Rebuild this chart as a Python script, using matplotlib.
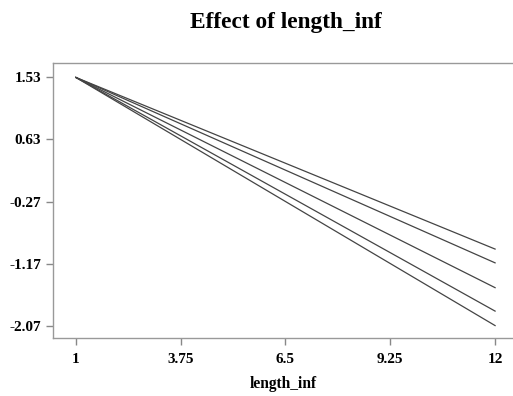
import numpy as np
import matplotlib
matplotlib.use("Agg")
import matplotlib.pyplot as plt

# values
x_vals = [1, 12]
start_vals = [1.53, 1.53, 1.53, 1.53, 1.53]
end_vals = [-0.96, -1.16, -1.52, -1.86, -2.07]
xticks = [1, 3.75, 6.5, 9.25, 12]
yticks = [-2.07, -1.17, -0.27, 0.63, 1.53]

plt.rcParams["font.family"] = ["Liberation Serif", "DejaVu Serif"]
plt.rcParams["font.weight"] = "bold"

fig = plt.figure(figsize=(5.13, 3.96), dpi=100)
ax = fig.add_axes([0.1033, 0.1465, 0.8967, 0.6945])

for s, e in zip(start_vals, end_vals):
    ax.plot(x_vals, [s, e], color="#444444", linewidth=0.9)

ax.set_xlim(0.40, 12.47)
ax.set_ylim(-2.25, 1.74)
ax.set_xticks(xticks)
ax.set_xticklabels(["1", "3.75", "6.5", "9.25", "12"])
ax.set_yticks(yticks)
ax.set_yticklabels([f"{v:.2f}" for v in yticks])
ax.tick_params(axis="both", colors="#888888", labelcolor="black", labelsize=11,
               length=5, width=1)
ax.tick_params(axis="x", pad=6)
for lab in ax.get_xticklabels() + ax.get_yticklabels():
    lab.set_fontweight("bold")
for sp in ax.spines.values():
    sp.set_color("#999999")
    sp.set_linewidth(1)
ax.spines["right"].set_visible(False)

ax.set_xlabel("length_inf", fontsize=11.2, fontweight="bold", labelpad=7)
fig.text(0.557, 0.944, "Effect of length_inf", ha="center", va="center",
         fontsize=16.8, fontweight="bold")

plt.savefig("out.png")
